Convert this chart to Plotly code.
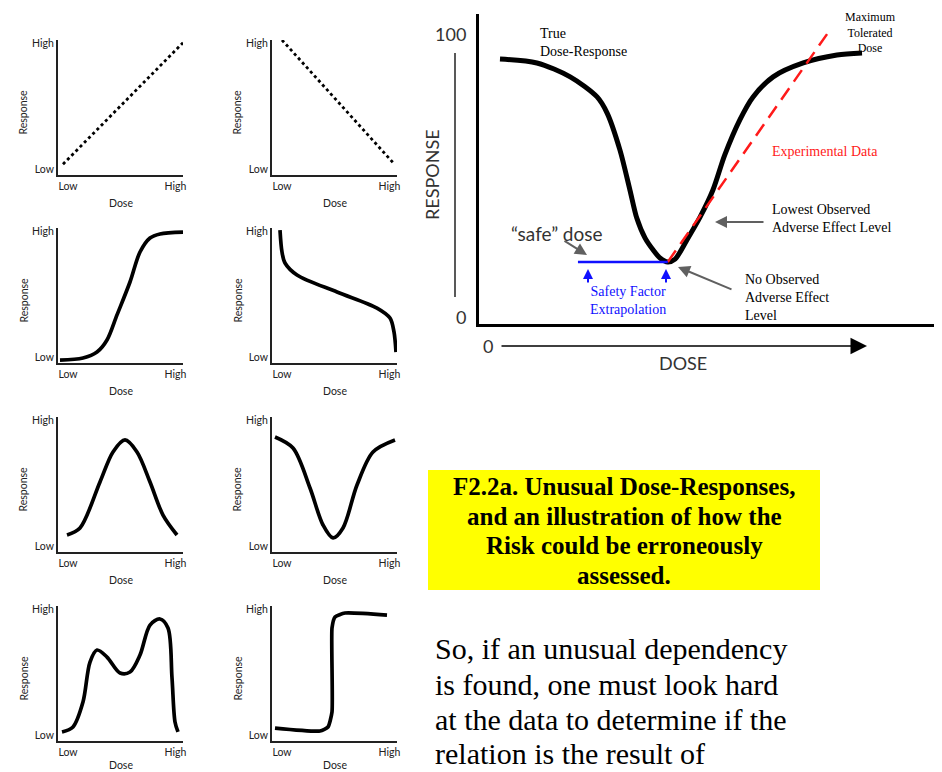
import plotly.graph_objects as go

# the page puts the figure 8px in from the top-left corner
OFF = 8
W, H = 942 - OFF, 772 - OFF

# ---- small panels: dose (0=Low .. 1=High) vs response (0=Low .. 1=High)
linear_up_x = [0.04, 1.0]
linear_up_y = [0.08, 0.98]

linear_down_x = [0.08, 0.97]
linear_down_y = [1.0, 0.09]

sigmoid_x = [0.016, 0.2, 0.312, 0.392, 0.472, 0.576, 0.656, 0.736, 0.816, 1.0]
sigmoid_y = [0.022, 0.037, 0.081, 0.17, 0.356, 0.6, 0.822, 0.926, 0.956, 0.97]

decline_x = [0.064, 0.08, 0.104, 0.2, 0.52, 0.84, 0.944, 0.976, 0.992]
decline_y = [0.985, 0.822, 0.741, 0.652, 0.526, 0.407, 0.333, 0.23, 0.081]

bell_x = [0.072, 0.176, 0.336, 0.44, 0.536, 0.632, 0.736, 0.84, 0.952]
bell_y = [0.126, 0.178, 0.519, 0.741, 0.83, 0.741, 0.519, 0.274, 0.126]

ushape_x = [0.024, 0.168, 0.304, 0.408, 0.488, 0.568, 0.68, 0.808, 0.984]
ushape_y = [0.852, 0.77, 0.474, 0.2, 0.104, 0.178, 0.496, 0.741, 0.83]

bimodal_x = [0.032, 0.12, 0.2, 0.256, 0.312, 0.392, 0.496, 0.576, 0.656,
             0.736, 0.816, 0.88, 0.912, 0.936, 0.96]
bimodal_y = [0.067, 0.104, 0.289, 0.585, 0.674, 0.622, 0.504, 0.511, 0.637,
             0.859, 0.904, 0.837, 0.467, 0.141, 0.067]

step_x = [0.024, 0.384, 0.448, 0.48, 0.48, 0.504, 0.584, 0.92]
step_y = [0.096, 0.074, 0.104, 0.215, 0.837, 0.919, 0.948, 0.933]

small_ticks = ["Low", "High"]

# ---- big panel (dose 0..100, response 0..100)
true_dose = [4.6, 12.7, 20.0, 25.9, 28.1, 30.9, 33.1, 34.6, 36.4, 38.2, 39.7,
             41.4, 43.0, 45.6, 48.5, 51.3, 53.9, 57.2, 60.1, 64.5, 71.1, 78.5, 84.0]
true_resp = [91.5, 90.1, 85.2, 78.1, 72.4, 59.4, 45.2, 35.3, 28.3, 24.0, 21.2,
             19.8, 20.8, 27.6, 35.7, 45.2, 57.6, 70.0, 78.1, 85.2, 90.1, 92.9, 93.6]

exp_dose = [41.4, 76.5]
exp_resp = [19.8, 100.7]

safe_dose = [21.7, 41.4]
safe_resp = [19.8, 19.8]

caption_lines = ["F2.2a. Unusual Dose-Responses,", "and an illustration of how the",
                 "Risk could be erroneously", "assessed."]
paragraph_lines = ["So, if an unusual dependency", "is found, one must look hard",
                   "at the data to determine if the", "relation is the result of"]


def X(p):
    return (p - OFF) / W


def Y(p):
    return 1 - (p - OFF) / H


fig = go.Figure()

panels = [
    (linear_up_x, linear_up_y, "dot", 0, 0),
    (linear_down_x, linear_down_y, "dot", 1, 0),
    (sigmoid_x, sigmoid_y, "solid", 0, 1),
    (decline_x, decline_y, "solid", 1, 1),
    (bell_x, bell_y, "solid", 0, 2),
    (ushape_x, ushape_y, "solid", 1, 2),
    (bimodal_x, bimodal_y, "solid", 0, 3),
    (step_x, step_y, "solid", 1, 3),
]
cols = [(58, 183), (272, 397)]
rows = [(40, 175), (228, 363), (417, 552), (606, 741)]

small_font = dict(family="Lato, Open Sans, sans-serif", size=10.5, color="#222")
annotations = []
layout_axes = {}

for i, (xs, ys, dash, c, r) in enumerate(panels, start=1):
    sfx = "" if i == 1 else str(i)
    x0, x1 = cols[c]
    y0, y1 = rows[r]
    if dash == "dot":
        line = dict(color="black", width=2.8, dash="dot")
    else:
        line = dict(color="black", width=3.7, shape="spline", smoothing=0.9 if i != 8 else 0.5)
    fig.add_trace(go.Scatter(x=xs, y=ys, mode="lines", line=line,
                             xaxis="x" + sfx, yaxis="y" + sfx,
                             showlegend=False, hoverinfo="skip"))
    layout_axes["xaxis" + sfx] = dict(
        domain=[X(x0), X(x1)], range=[0, 1], anchor="y" + sfx, automargin=False,
        showgrid=False, zeroline=False, showline=True, linecolor="#222", linewidth=2,
        tickvals=[0.08, 0.94], ticktext=small_ticks, ticks="", tickfont=small_font,
        fixedrange=True)
    layout_axes["yaxis" + sfx] = dict(
        domain=[Y(y1), Y(y0)], range=[0, 1], anchor="x" + sfx, automargin=False,
        showgrid=False, zeroline=False, showline=True, linecolor="#222", linewidth=2,
        tickvals=[0.04, 0.975], ticktext=small_ticks, ticks="", tickfont=small_font,
        fixedrange=True)
    # axis titles
    annotations.append(dict(x=X((x0 + x1) / 2), y=Y(min(y1 + 28, 765)), xref="paper", yref="paper",
                            text="Dose", showarrow=False, font=small_font,
                            xanchor="center", yanchor="middle"))
    annotations.append(dict(x=X(x0 - 35), y=Y((y0 + y1) / 2 + 5), xref="paper", yref="paper",
                            text="Response", textangle=-90, showarrow=False, font=small_font,
                            xanchor="center", yanchor="middle"))

# ---- big panel
fig.add_trace(go.Scatter(x=true_dose, y=true_resp, mode="lines",
                         line=dict(color="black", width=5, shape="spline", smoothing=0.8),
                         xaxis="x9", yaxis="y9", showlegend=False, hoverinfo="skip"))
fig.add_trace(go.Scatter(x=exp_dose, y=exp_resp, mode="lines",
                         line=dict(color="#ff1a1a", width=2.5, dash="14px,8px"),
                         xaxis="x9", yaxis="y9", showlegend=False, hoverinfo="skip"))
fig.add_trace(go.Scatter(x=safe_dose, y=safe_resp, mode="lines",
                         line=dict(color="#1010ff", width=2.5),
                         xaxis="x9", yaxis="y9", showlegend=False, hoverinfo="skip"))

big_font = dict(family="Lato, Open Sans, sans-serif", size=18, color="#333")
layout_axes["xaxis9"] = dict(
    domain=[X(479), X(935)], range=[0, 100], anchor="y9", automargin=False,
    showgrid=False, zeroline=False, showline=True, linecolor="black", linewidth=3,
    showticklabels=False, ticks="", fixedrange=True)
layout_axes["yaxis9"] = dict(
    domain=[Y(324), Y(14)], range=[-2.12, 107.4], anchor="x9", automargin=False,
    showgrid=False, zeroline=False, showline=True, linecolor="black", linewidth=3,
    tickvals=[0, 100], ticktext=["0", "100"], ticks="", tickfont=big_font,
    ticklabelstandoff=6, fixedrange=True)

serif = "Liberation Serif, Times New Roman, serif"
sans = "Lato, Open Sans, sans-serif"


def note(x, y, text, size=14, color="black", family=serif, xanchor="center", align="center", **kw):
    d = dict(x=X(x), y=Y(y), xref="paper", yref="paper", text=text, showarrow=False,
             font=dict(family=family, size=size, color=color),
             xanchor=xanchor, yanchor="middle", align=align)
    d.update(kw)
    annotations.append(d)


def arrow(hx, hy, tx, ty, color, width=2, size=1.2, head=2):
    annotations.append(dict(x=X(hx), y=Y(hy), xref="paper", yref="paper", text="",
                            showarrow=True, ax=tx - hx, ay=ty - hy,
                            arrowcolor=color, arrowwidth=width, arrowsize=size,
                            arrowhead=head, standoff=0, startstandoff=0))


note(538, 43, "True<br>Dose-Response", xanchor="left", align="left")
note(870, 32, "Maximum<br>Tolerated<br>Dose", size=12)
note(770, 152, "Experimental Data", color="#ff1a1a", xanchor="left")
note(770, 219, "Lowest Observed<br>Adverse Effect Level", xanchor="left", align="left")
note(743, 297, "No Observed<br>Adverse Effect<br>Level", xanchor="left", align="left")
note(628, 301, "Safety Factor<br>Extrapolation", color="#1010ff")
note(557, 233, "\u201csafe\u201d dose", size=19, family=sans, color="#333")
note(432, 175, "RESPONSE", size=18, family=sans, color="#333", textangle=-90)
note(683, 363, "DOSE", size=18, family=sans, color="#333")
note(488, 346, "0", size=18, family=sans, color="#333")

arrow(867, 346, 500, 346, "black", width=1.5, size=2.2)
arrow(587, 255, 563, 240, "#606060")
arrow(715, 222, 765, 222, "#606060")
arrow(678, 267, 733, 290, "#606060")
arrow(588, 269, 588, 284, "#1010ff", width=2, size=1.0)
arrow(666, 269, 666, 284, "#1010ff", width=2, size=1.0)

# caption box and paragraph
for line_text, cy in zip(caption_lines, [487, 516, 545, 575]):
    note(624, cy, "<b>" + line_text + "</b>", size=25)
for line_text, cy in zip(paragraph_lines, [648, 684, 719, 753]):
    note(433, cy, line_text, size=30, xanchor="left", align="left")

shapes = [
    dict(type="rect", xref="paper", yref="paper", x0=X(428), x1=X(820), y0=Y(590), y1=Y(470),
         fillcolor="#ffff00", line=dict(width=0), layer="below"),
    dict(type="line", xref="paper", yref="paper", x0=X(455), x1=X(455), y0=Y(297), y1=Y(53),
         line=dict(color="#222", width=1.5)),
]

fig.update_layout(
    width=W, height=H, autosize=False,
    margin=dict(l=0, r=0, t=0, b=0),
    paper_bgcolor="white", plot_bgcolor="white",
    annotations=annotations, shapes=shapes,
    **layout_axes,
)

fig.write_html("out.html")
